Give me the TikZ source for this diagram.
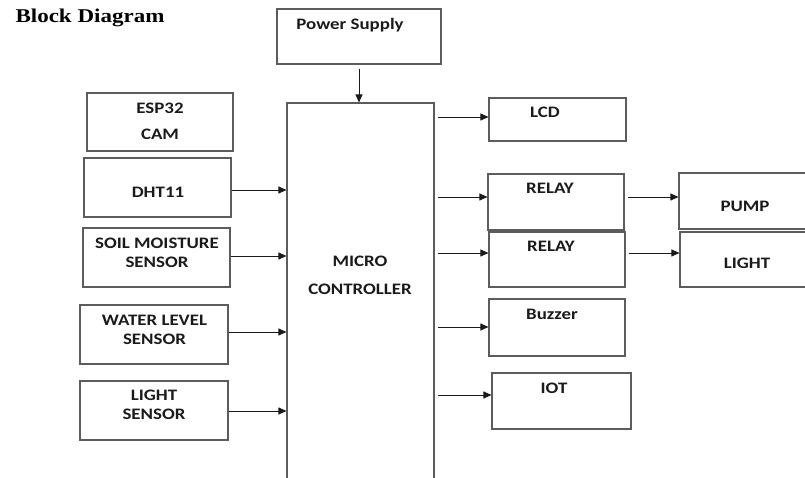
\documentclass[tikz,border=0pt]{standalone}
\usepackage{fontspec}
\setmainfont{Carlito}[FakeStretch=1.18]
\newfontfamily\titlefont{Liberation Serif}[FakeStretch=1.18]
\usepackage{tikz}
\usetikzlibrary{arrows.meta,calc}
\definecolor{edge}{HTML}{5C5C5C}
\definecolor{ink}{HTML}{1A1A1A}
\tikzset{box/.style 2 args={draw=edge,line width=1.1pt,inner sep=0pt,minimum width=#1pt,minimum height=#2pt},lbl/.style={font=\bfseries\fontsize{16}{19}\selectfont,text=ink,align=center,inner sep=0pt},arr/.style={-{Triangle[length=8pt,width=7pt]},line width=0.9pt,draw=ink}}

\begin{document}
\begin{tikzpicture}[x=1pt,y=-1pt]
\useasboundingbox (0,0) rectangle (805,477);
\node[anchor=base west,font=\titlefont\bfseries\fontsize{19.5}{22}\selectfont] (title) at (12,22) {Block Diagram};
% boxes
\node[box={164}{55}] (ps) at (359,36.5) {};
\node[box={147}{382}] (mc) at (360.5,294) {};
\node[box={146}{58}] (esp) at (160,122) {};
\node[box={147}{59}] (dht) at (157.5,187.5) {};
\node[box={147}{59}] (soil) at (156.5,257.5) {};
\node[box={148}{59}] (water) at (154,334.5) {};
\node[box={148}{59}] (lsen) at (154,410.5) {};
\node[box={137}{43}] (lcd) at (557.5,119.5) {};
\node[box={136}{56}] (r1) at (556,202) {};
\node[box={136}{55}] (r2) at (557,259.5) {};
\node[box={136}{57}] (buz) at (557,327.5) {};
\node[box={139}{56}] (iot) at (561.5,401) {};
\node[box={128}{56}] (pump) at (743,201) {};
\node[box={127}{55}] (lt) at (743.5,259.5) {};
% texts
\node[lbl,anchor=base] (ps-t) at (350,29.3) {Power Supply};
\node[lbl] (mc-t) at (360,275) {MICRO\\[9pt]CONTROLLER};
\node[lbl] (esp-t) at (160,121) {ESP32\\[7pt]CAM};
\node[lbl,anchor=base] (dht-t) at (158,197) {DHT11};
\node[lbl] (soil-t) at (157,252.5) {SOIL MOISTURE\\SENSOR};
\node[lbl] (water-t) at (154.5,329.5) {WATER LEVEL\\SENSOR};
\node[lbl] (lsen-t) at (154,404.5) {LIGHT\\SENSOR};
\node[lbl,anchor=base] (lcd-t) at (545,117) {LCD};
\node[lbl,anchor=base] (r1-t) at (550,193) {RELAY};
\node[lbl,anchor=base] (r2-t) at (551,251) {RELAY};
\node[lbl,anchor=base] (buz-t) at (552,319) {Buzzer};
\node[lbl,anchor=base] (iot-t) at (554,393) {IOT};
\node[lbl,anchor=base] (pump-t) at (745,211) {PUMP};
\node[lbl,anchor=base] (lt-t) at (747,268) {LIGHT};
% connectors
\draw[arr] ([yshift=-4pt]ps.south) -- (ps.south |- mc.north);
\foreach \s/\d in {dht/-2.5,soil/1.5,water/2.5,lsen/-0.5}{\draw[arr] ([yshift=\d pt]\s.east) -- ([yshift=\d pt]\s.east -| mc.west);}
\foreach \b/\d in {lcd/2.5,r1/5,r2/6.5,buz/0.5,iot/6}{\draw[arr] ($(mc.east |- \b.west)+(3pt,\d pt)$) -- ([yshift=\d pt]\b.west);}
\draw[arr] ([xshift=3pt,yshift=5pt]r1.east) -- ([yshift=5pt]r1.east -| pump.west);
\draw[arr] ([xshift=3pt,yshift=6.5pt]r2.east) -- ([yshift=6.5pt]r2.east -| lt.west);
\end{tikzpicture}
\end{document}
